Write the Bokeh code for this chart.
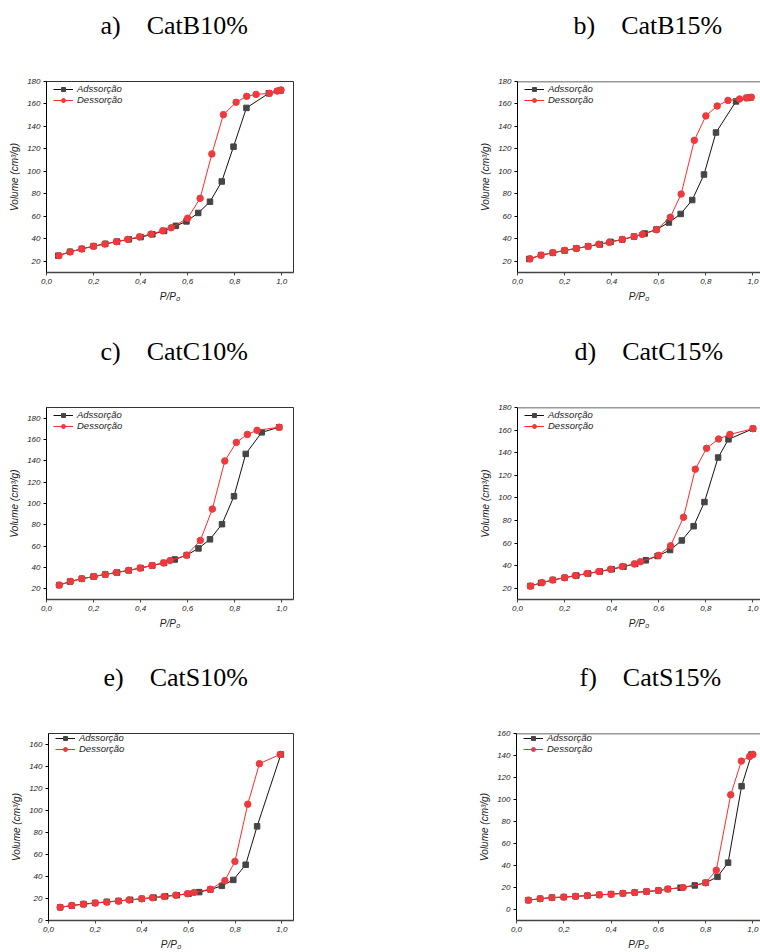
from bokeh.plotting import figure
from bokeh.layouts import column, row
from bokeh.models import (Range1d, FixedTicker, CustomJSTickFormatter, Legend,
                          LegendItem, Span)
from bokeh.core.properties import value
from bokeh.embed import file_html
from bokeh.resources import INLINE

# ---- isotherm data: relative pressure P/P0 and adsorbed volume (cm3/g) ----
# a) CatB10%
ads_x_a = [0.05, 0.10, 0.15, 0.20, 0.25, 0.30, 0.35, 0.40, 0.45, 0.50, 0.55, 0.595,
           0.645, 0.695, 0.745, 0.795, 0.85, 0.945, 0.995]
ads_y_a = [25.0, 28.5, 31.0, 33.5, 35.5, 37.5, 39.5, 41.5, 44.0, 47.0, 51.5, 55.5,
           63.0, 73.0, 91.0, 122.0, 156.5, 169.5, 172.0]
des_x_a = [0.997, 0.98, 0.948, 0.891, 0.851, 0.806, 0.752, 0.703, 0.653, 0.60, 0.53,
           0.494, 0.444, 0.395, 0.345, 0.297, 0.248, 0.20, 0.15, 0.10, 0.053]
des_y_a = [172.5, 171.5, 169.5, 168.5, 166.8, 161.5, 150.5, 115.5, 76.0, 58.3, 49.8,
           47.2, 44.2, 41.8, 39.5, 37.4, 35.3, 33.3, 31.0, 28.3, 25.0]

# b) CatB15%
ads_x_b = [0.05, 0.10, 0.15, 0.20, 0.25, 0.30, 0.35, 0.395, 0.445, 0.495, 0.54, 0.59,
           0.643, 0.693, 0.742, 0.792, 0.843, 0.928, 0.975, 0.99]
ads_y_b = [22.0, 25.5, 27.5, 29.5, 31.5, 33.3, 35.0, 37.3, 39.3, 42.0, 44.7, 48.3,
           54.5, 62.1, 74.5, 97.2, 134.6, 162.3, 165.3, 165.8]
des_x_b = [0.993, 0.972, 0.943, 0.894, 0.848, 0.80, 0.751, 0.695, 0.649, 0.59, 0.53,
           0.495, 0.445, 0.39, 0.345, 0.30, 0.25, 0.20, 0.15, 0.10, 0.053]
des_y_b = [166.0, 165.5, 164.4, 163.2, 158.2, 149.4, 127.6, 79.8, 59.2, 48.0, 43.9,
           42.0, 39.5, 36.8, 35.2, 33.3, 31.4, 29.7, 27.7, 25.4, 22.2]

# c) CatC10%
ads_x_c = [0.054, 0.10, 0.15, 0.20, 0.25, 0.30, 0.35, 0.40, 0.45, 0.50, 0.545, 0.596,
           0.646, 0.695, 0.746, 0.797, 0.847, 0.915, 0.989]
ads_y_c = [23.5, 26.8, 29.5, 31.5, 33.5, 35.3, 37.3, 39.5, 41.8, 44.3, 47.5, 51.6,
           57.9, 66.4, 80.6, 106.8, 146.5, 166.7, 171.5]
des_x_c = [0.989, 0.895, 0.854, 0.807, 0.758, 0.705, 0.654, 0.596, 0.525, 0.497, 0.448,
           0.398, 0.348, 0.296, 0.249, 0.203, 0.15, 0.103, 0.054]
des_y_c = [171.5, 168.6, 164.8, 157.3, 139.9, 94.8, 65.4, 51.6, 46.5, 44.3, 41.9,
           39.5, 37.3, 35.3, 33.5, 31.5, 29.5, 27.0, 23.5]

# d) CatC15%
ads_x_d = [0.055, 0.10, 0.15, 0.20, 0.25, 0.30, 0.35, 0.40, 0.45, 0.50, 0.545, 0.595,
           0.648, 0.698, 0.748, 0.794, 0.852, 0.896, 1.0]
ads_y_d = [22.0, 24.7, 27.3, 29.3, 31.2, 33.0, 34.8, 36.8, 39.0, 41.5, 44.7, 48.5,
           53.8, 62.3, 74.9, 96.3, 135.7, 151.8, 161.2]
des_x_d = [1.0, 0.902, 0.854, 0.803, 0.755, 0.705, 0.65, 0.599, 0.522, 0.496, 0.445,
           0.395, 0.345, 0.295, 0.245, 0.20, 0.15, 0.105, 0.055]
des_y_d = [161.2, 156.2, 152.1, 143.9, 125.4, 82.8, 57.6, 49.1, 43.5, 41.5, 39.2,
           36.8, 34.8, 33.0, 31.2, 29.2, 27.3, 25.0, 21.8]

# e) CatS10%
ads_x_e = [0.05, 0.10, 0.15, 0.20, 0.25, 0.30, 0.35, 0.40, 0.45, 0.50, 0.55, 0.60,
           0.646, 0.694, 0.743, 0.792, 0.845, 0.894, 0.996]
ads_y_e = [12.0, 13.5, 15.0, 16.0, 17.0, 17.8, 18.8, 19.8, 20.8, 22.0, 23.0, 24.3,
           25.8, 28.2, 31.5, 36.9, 50.7, 85.6, 151.0]
des_x_e = [0.993, 0.904, 0.854, 0.799, 0.756, 0.694, 0.624, 0.595, 0.545, 0.495, 0.445,
           0.40, 0.345, 0.30, 0.25, 0.20, 0.15, 0.10, 0.05]
des_y_e = [151.0, 142.6, 105.7, 53.7, 36.3, 28.5, 25.5, 24.3, 23.0, 21.8, 20.7,
           19.7, 18.7, 17.6, 16.7, 15.8, 14.7, 13.7, 12.0]

# f) CatS15%
ads_x_f = [0.05, 0.10, 0.15, 0.20, 0.25, 0.30, 0.35, 0.40, 0.45, 0.50, 0.55, 0.60,
           0.64, 0.694, 0.754, 0.80, 0.85, 0.895, 0.952, 0.994]
ads_y_f = [8.5, 9.8, 10.8, 11.3, 12.0, 12.6, 13.3, 14.0, 14.7, 15.5, 16.3, 17.3,
           18.6, 19.8, 21.9, 24.3, 29.7, 42.6, 112.1, 140.9]
des_x_f = [1.0, 0.986, 0.951, 0.906, 0.845, 0.80, 0.705, 0.64, 0.60, 0.55, 0.50,
           0.45, 0.40, 0.35, 0.30, 0.25, 0.20, 0.15, 0.10, 0.05]
des_y_f = [141.0, 139.1, 134.9, 104.3, 35.7, 24.3, 20.0, 18.6, 17.3, 16.3, 15.5,
           14.7, 13.8, 13.3, 12.6, 12.0, 11.3, 10.8, 9.8, 8.5]

# non-breaking spaces keep the wide gap between letter and sample name
GAP = "\u00a0" * 4
panel_titles = ["a)" + GAP + "CatB10%", "b)" + GAP + "CatB15%",
                "c)" + GAP + "CatC10%", "d)" + GAP + "CatC15%",
                "e)" + GAP + "CatS10%", "f)" + GAP + "CatS15%"]
x_ticks = [0.0, 0.2, 0.4, 0.6, 0.8, 1.0]
y_ticks_abcd = [20, 40, 60, 80, 100, 120, 140, 160, 180]
y_ticks_ef = [0, 20, 40, 60, 80, 100, 120, 140, 160]
series_names = ["Adssorção", "Dessorção"]

SANS = "Liberation Sans"
SERIF = "Liberation Serif"
ADS_LINE = "#111111"
ADS_FILL = "#454545"
DES_LINE = "#ff2b2b"
DES_FILL = "#ee3a3f"
STRIP_H = 60      # height of the caption strip above each row of plots
TOP = 21          # space between caption strip and plot frame


def caption(text, left, width):
    """A blank strip holding one panel caption, laid out in pixel units."""
    s = figure(width=width, height=STRIP_H, output_backend="svg",
               toolbar_location=None, x_range=Range1d(0, width),
               y_range=Range1d(0, STRIP_H), min_border=0)
    s.axis.visible = False
    s.grid.visible = False
    s.outline_line_color = None
    s.text(x=[left], y=[STRIP_H - 25], text=[text],
           text_font=value(SERIF), text_font_size=value("26px"),
           text_align="left", text_baseline="alphabetic", text_color="black")
    return s


def panel(ax, ay, dx, dy, yr, yticks, left_side, height, bottom, border_left):
    if left_side:
        width, border_right, x_end = 470, 177, 1.05
    else:
        width, border_right, x_end = 290, 0, 1.032
    p = figure(width=width, height=height, output_backend="svg",
               toolbar_location=None, x_range=Range1d(0, x_end),
               y_range=Range1d(*yr), min_border_left=border_left,
               min_border_right=border_right, min_border_top=TOP,
               min_border_bottom=bottom)
    p.grid.visible = False
    p.background_fill_color = "white"
    p.border_fill_color = "white"
    if left_side:
        p.outline_line_color = "#333333"
        p.outline_line_width = 1
    else:
        # the frame runs off the right edge: only the top border shows
        p.outline_line_color = None
        p.add_layout(Span(location=yr[1], dimension="width",
                          line_color="#333333", line_width=1.5))

    for axis in (p.xaxis[0], p.yaxis[0]):
        axis.major_tick_out = 3
        axis.major_tick_in = 0
        axis.minor_tick_out = 0
        axis.minor_tick_in = 0
        axis.major_label_text_font = SANS
        axis.major_label_text_font_size = "8px"
        axis.major_label_text_font_style = "italic"
        axis.major_label_text_color = "#222222"
        axis.major_label_standoff = 3
        axis.axis_label_text_font = SANS
        axis.axis_label_text_font_size = "10px"
        axis.axis_label_text_font_style = "italic"
        axis.axis_label_text_color = "#222222"
        axis.axis_label_standoff = 4

    p.xaxis.ticker = FixedTicker(ticks=x_ticks)
    p.xaxis.formatter = CustomJSTickFormatter(
        code="return tick.toFixed(1).replace('.', ',');")
    p.xaxis.axis_label = "P/P₀"
    p.xaxis.axis_line_color = "#444444"
    p.xaxis.axis_line_width = 1.5
    p.xaxis.major_tick_line_color = "#444444"

    p.yaxis.ticker = FixedTicker(ticks=yticks)
    p.yaxis.axis_label = "Volume (cm³/g)"
    p.yaxis.axis_line_color = "black"
    p.yaxis.major_tick_line_color = "black"

    l1 = p.line(ax, ay, line_color=ADS_LINE, line_width=1)
    m1 = p.scatter(ax, ay, marker="square", size=5.5, fill_color=ADS_FILL,
                   line_color=ADS_FILL)
    l2 = p.line(dx, dy, line_color=DES_LINE, line_width=1)
    m2 = p.scatter(dx, dy, marker="circle", size=6.5, fill_color=DES_FILL,
                   line_color=DES_FILL)

    frame_h = height - TOP - bottom
    # tuple location is the legend's lower-left corner, measured from the
    # frame's lower-left; two rows of 10px put the top 4px under the frame top
    legend = Legend(items=[LegendItem(label=series_names[0], renderers=[l1, m1]),
                           LegendItem(label=series_names[1], renderers=[l2, m2])],
                    location=(7, frame_h - 24), orientation="vertical",
                    glyph_width=20, glyph_height=10, label_height=10,
                    label_standoff=4, spacing=0, padding=0, margin=0,
                    border_line_color=None, background_fill_alpha=0,
                    label_text_font=SANS, label_text_font_size="9.5px",
                    label_text_font_style="italic", label_text_color="#222222")
    p.add_layout(legend, "center")
    return p


pa = panel(ads_x_a, ads_y_a, des_x_a, des_y_a, (10, 180), y_ticks_abcd,
           True, 266, 54, 46)
pb = panel(ads_x_b, ads_y_b, des_x_b, des_y_b, (10, 180), y_ticks_abcd,
           False, 266, 54, 47)
pc = panel(ads_x_c, ads_y_c, des_x_c, des_y_c, (10, 190), y_ticks_abcd,
           True, 266, 53, 46)
pd = panel(ads_x_d, ads_y_d, des_x_d, des_y_d, (10, 180), y_ticks_abcd,
           False, 266, 53, 47)
pe = panel(ads_x_e, ads_y_e, des_x_e, des_y_e, (0, 170), y_ticks_ef,
           True, 240, 29, 48)
pf = panel(ads_x_f, ads_y_f, des_x_f, des_y_f, (-10, 160), y_ticks_ef,
           False, 240, 29, 46)

layout = column(
    row(caption(panel_titles[0], 100, 470), caption(panel_titles[1], 103, 290)),
    row(pa, pb),
    row(caption(panel_titles[2], 100, 470), caption(panel_titles[3], 104, 290)),
    row(pc, pd),
    row(caption(panel_titles[4], 103, 470), caption(panel_titles[5], 109, 290)),
    row(pe, pf),
)

with open("out.html", "w") as f:
    f.write(file_html(layout, INLINE))
